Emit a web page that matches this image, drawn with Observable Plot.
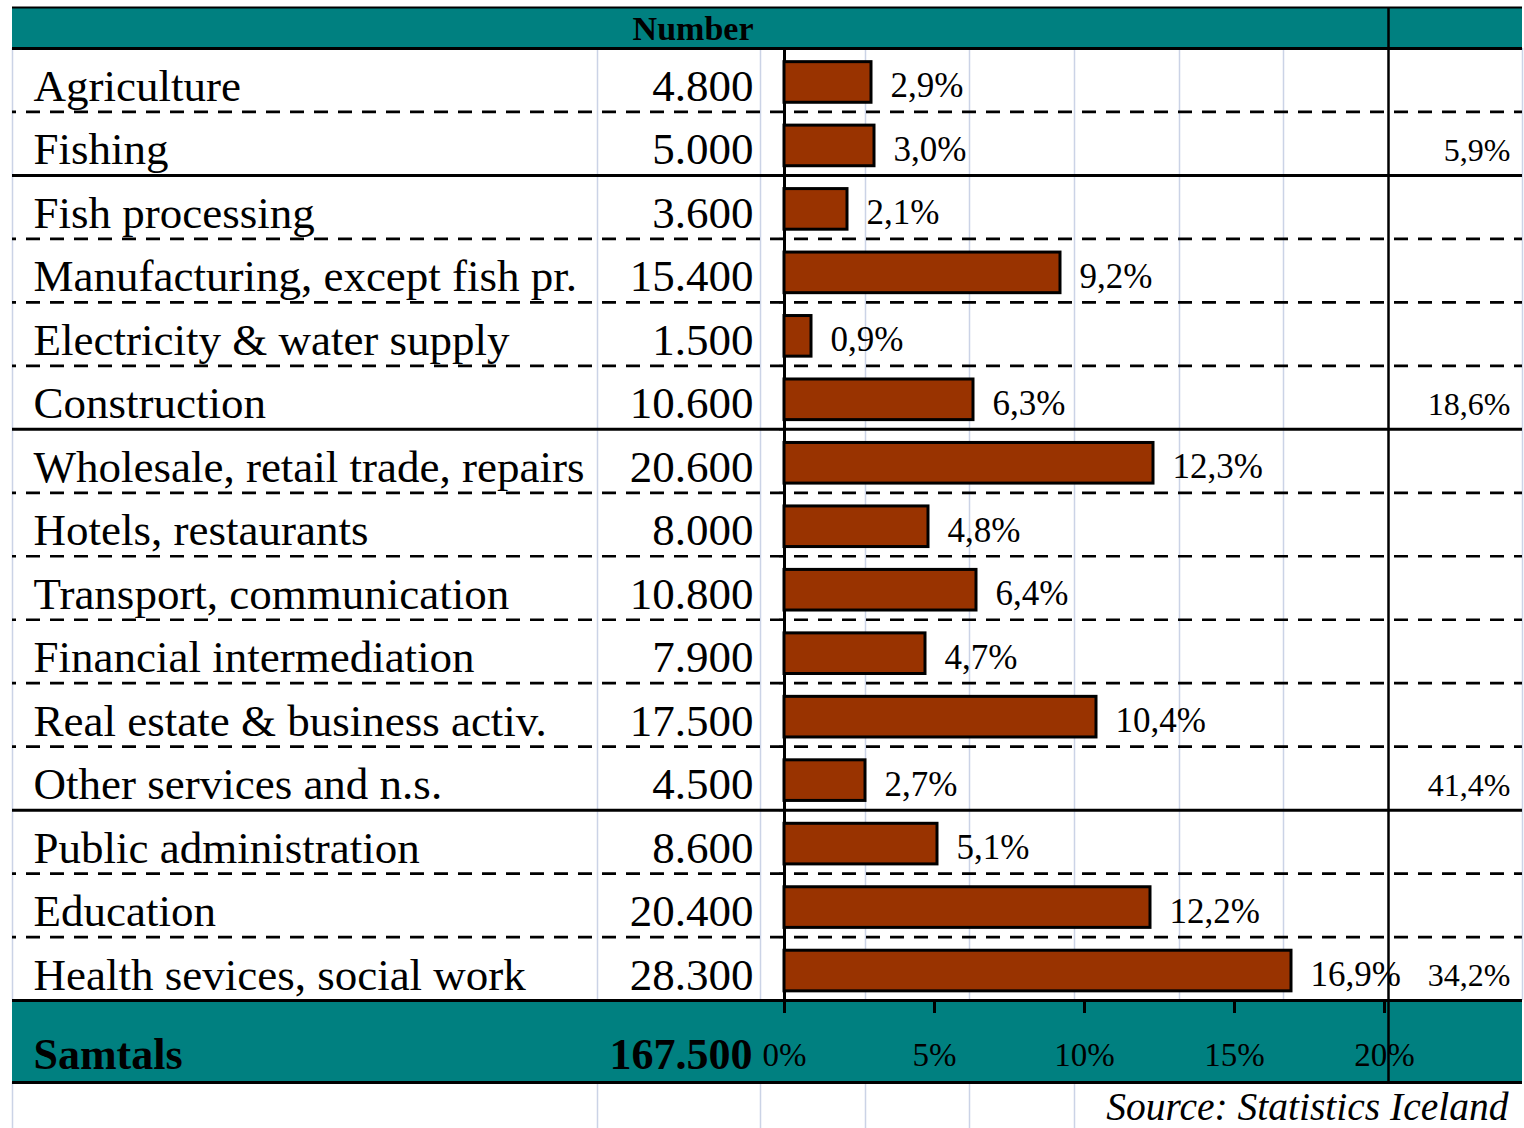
<!DOCTYPE html>
<html>
<head>
<meta charset="utf-8">
<script src="https://cdn.jsdelivr.net/npm/d3@7"></script>
<script src="https://cdn.jsdelivr.net/npm/@observablehq/plot@0.6"></script>
<style>
  html, body { margin: 0; padding: 0; background: #ffffff; }
  #chart svg { display: block; }
</style>
</head>
<body>
<div id="chart"></div>
<script>
// ---- Data ----
const categories = [
  "Agriculture", "Fishing", "Fish processing", "Manufacturing, except fish pr.",
  "Electricity & water supply", "Construction", "Wholesale, retail trade, repairs",
  "Hotels, restaurants", "Transport, communication", "Financial intermediation",
  "Real estate & business activ.", "Other services and n.s.", "Public administration",
  "Education", "Health sevices, social work"
];
const numbers = [4800, 5000, 3600, 15400, 1500, 10600, 20600, 8000, 10800, 7900, 17500, 4500, 8600, 20400, 28300];
const shares = [2.9, 3.0, 2.1, 9.2, 0.9, 6.3, 12.3, 4.8, 6.4, 4.7, 10.4, 2.7, 5.1, 12.2, 16.9];
const groupLastRow = [1, 5, 11, 14];
const groupShares = [5.9, 18.6, 41.4, 34.2];
const totalLabel = "Samtals";
const totalNumber = 167500;
const axisTicks = [0, 5, 10, 15, 20];
const headerLabel = "Number";
const sourceLabel = "Source: Statistics Iceland";

// ---- Layout (pixels) ----
const W = 1524, H = 1128;
const X0 = 784, PX_PER_PCT = 30;       // 0% position and scale of the bar axis
const TOP = 48, ROW = 63.47;           // first row top and row height
const L = 12, R = 1522;
const fx = p => (p - X0) / PX_PER_PCT;
const fy = p => (p - TOP) / ROW;

const teal = "#008080", barColor = "#993300", gridColor = "#cbd3e6";
const serif = "'Liberation Serif', 'Times New Roman', Times, serif";

const loc = d3.formatLocale({decimal: ",", thousands: ".", grouping: [3], currency: ["", ""]});
const fmtNum = loc.format(",d");
const fmtPct = v => loc.format(".1f")(v) + "%";

const rows = categories.map((c, i) => ({i, category: c, number: numbers[i], share: shares[i]}));
const groups = groupLastRow.map((r, k) => ({row: r, share: groupShares[k]}));
const nRows = categories.length;
const groupBreaks = [0, ...groupLastRow.map(r => r + 1)];
const dashedBreaks = d3.range(1, nRows).filter(b => !groupBreaks.includes(b));

const gridTop = [L, 597, 760, 865, 969, 1074, 1179, 1283, R].map(fx);
const gridBottom = [L, 597, 760, 865, 969, 1074].map(fx);

const chart = Plot.plot({
  width: W, height: H,
  margin: 0,
  x: {type: "linear", domain: [fx(0), fx(W)], range: [0, W], axis: null},
  y: {type: "linear", domain: [fy(0), fy(H)], range: [0, H], axis: null},
  style: {fontFamily: serif, background: "#ffffff", color: "black", overflow: "visible"},
  marks: [
    // teal bands
    Plot.rect([0], {x1: fx(L), x2: fx(R), y1: fy(7), y2: 0, fill: teal}),
    Plot.rect([0], {x1: fx(L), x2: fx(R), y1: nRows, y2: fy(1082), fill: teal}),
    // light cell grid
    Plot.ruleX(gridTop, {y1: 0, y2: nRows, stroke: gridColor, strokeWidth: 1.5}),
    Plot.ruleX(gridBottom, {y1: fy(1082), y2: fy(H), stroke: gridColor, strokeWidth: 1.5}),
    // dashed row borders
    Plot.ruleY(dashedBreaks, {x1: fx(L), x2: fx(R), stroke: "black", strokeWidth: 2.7, strokeDasharray: "14,10", strokeDashoffset: 10}),
    // solid borders
    Plot.ruleY([fy(7)], {x1: fx(L), x2: fx(R), stroke: "black", strokeWidth: 2}),
    Plot.ruleY([...groupBreaks, fy(1082)], {x1: fx(L), x2: fx(R), stroke: "black", strokeWidth: 3}),
    // divider before share column
    Plot.ruleX([fx(1388)], {y1: fy(7), y2: fy(1082), stroke: "black", strokeWidth: 2.5}),
    // category axis line and its ticks
    Plot.ruleX([0], {y1: 0, y2: fy(1013), stroke: "black", strokeWidth: 3}),
    Plot.ruleY(d3.range(0, nRows + 1), {x1: fx(779), x2: 0, stroke: "black", strokeWidth: 2}),
    // value axis ticks
    Plot.ruleX(axisTicks, {y1: nRows, y2: fy(1013), stroke: "black", strokeWidth: 3}),
    // bars
    Plot.rect(rows, {x1: 0, x2: "share", y1: d => d.i + 0.215, y2: d => d.i + 0.855,
      fill: barColor, stroke: "black", strokeWidth: 3}),
    // bar labels
    Plot.text(rows, {x: "share", y: d => d.i + 1, dy: -14.5, dx: 19, text: d => fmtPct(d.share),
      textAnchor: "start", lineAnchor: "bottom", fontSize: 35, fill: "black"}),
    // row labels
    Plot.text(rows, {x: fx(33), y: d => d.i + 1, dy: -11, text: "category",
      textAnchor: "start", lineAnchor: "bottom", fontSize: 45, fill: "black"}),
    Plot.text(rows, {x: fx(753), y: d => d.i + 1, dy: -11, text: d => fmtNum(d.number),
      textAnchor: "end", lineAnchor: "bottom", fontSize: 45, fill: "black"}),
    // group shares
    Plot.text(groups, {x: fx(1510), y: d => d.row + 1, dy: -14.5, text: d => fmtPct(d.share),
      textAnchor: "end", lineAnchor: "bottom", fontSize: 32, fill: "black"}),
    // header
    Plot.text([headerLabel], {x: fx(753), y: 0, dy: -9, text: d => d,
      textAnchor: "end", lineAnchor: "bottom", fontSize: 34, fontWeight: "bold", fill: "black"}),
    // total row
    Plot.text([totalLabel], {x: fx(33), y: fy(1068), text: d => d,
      textAnchor: "start", lineAnchor: "bottom", fontSize: 44, fontWeight: "bold", fill: "black"}),
    Plot.text([totalNumber], {x: fx(752), y: fy(1068), text: d => fmtNum(d),
      textAnchor: "end", lineAnchor: "bottom", fontSize: 44, fontWeight: "bold", fill: "black"}),
    // value axis labels
    Plot.text(axisTicks, {x: d => d, y: fy(1065), text: d => d + "%",
      textAnchor: "middle", lineAnchor: "bottom", fontSize: 33, fill: "black"}),
    // source
    Plot.text([sourceLabel], {x: fx(1508), y: fy(1119), text: d => d,
      textAnchor: "end", lineAnchor: "bottom", fontSize: 39.5, fontStyle: "italic", fill: "black"})
  ]
});
document.getElementById("chart").append(chart);
</script>
</body>
</html>
